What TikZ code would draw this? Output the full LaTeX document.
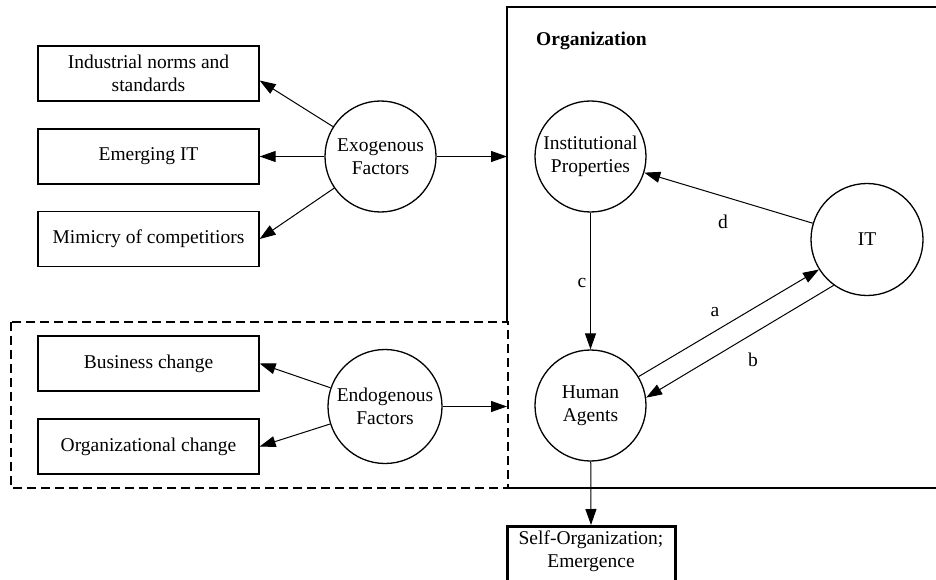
\documentclass[tikz,border=0pt]{standalone}
\usepackage{fontspec}
\setmainfont{Liberation Serif}
\usetikzlibrary{arrows.meta}
\begin{document}
\begin{tikzpicture}[x=1pt,y=-1pt,
  every node/.style={font=\fontsize{19.5}{22.5}\selectfont, inner sep=0pt},
  factorbox/.style={draw, line width=1.3pt, minimum width=221pt, minimum height=55pt, align=center},
  factor/.style={draw, circle, line width=1.3pt, align=center},
  conn/.style={line width=1pt, -{Triangle[length=16pt,width=11pt]}},
  lbl/.style={}]
\useasboundingbox (0,0) rectangle (936,580);

% organization frame
\draw[line width=2.4pt] (507,322) -- (507,7) -- (945,7);
\draw[line width=2.4pt] (507,488) -- (945,488);
\node[font=\bfseries\fontsize{19.5}{22.5}\selectfont, anchor=west] (orgt) at (536,41) {Organization};

% dashed frame of endogenous factors
\draw[line width=1.9pt, dash pattern=on 9pt off 5pt] (11,322) rectangle (508,488);

% left boxes
\node[factorbox] (b1) at (148.5,73.5) {Industrial norms and\\standards};
\node[factorbox] (b2) at (148.5,156.5) {Emerging IT};
\node[factorbox] (b3) at (148.5,239) {Mimicry of competitiors};
\node[factorbox] (b4) at (148.5,363.5) {Business change};
\node[factorbox] (b5) at (148.5,446.5) {Organizational change};

% circles
\node[factor, minimum size=111pt] (exo) at (380.5,156.5) {Exogenous\\Factors};
\node[factor, minimum size=114pt] (endo) at (385,406.5) {Endogenous\\Factors};
\node[factor, minimum size=111pt] (ip) at (590.5,156.5) {Institutional\\Properties};
\node[factor, minimum size=112pt] (it) at (867,239.5) {IT};
\node[factor, minimum size=111pt] (ha) at (590.5,405.5) {Human\\Agents};

% self-organization box
\node[draw, line width=3pt, minimum width=168pt, minimum height=64pt, anchor=north, align=center, text depth=0pt]
  (so) at (591,525) {\raisebox{18pt}{}Self-Organization;\\Emergence\\[9pt]\strut};

\coordinate (orgA) at (507,156.5);
\coordinate (orgB) at (507,406.5);

% connectors
\draw[conn] (exo) -- ([yshift=-7pt]b1.east);
\draw[conn] (exo) -- (b2.east);
\draw[conn] (exo) -- (b3.east);
\draw[conn] (exo) -- (orgA);
\draw[conn] (endo) -- (b4.east);
\draw[conn] (endo) -- (b5.east);
\draw[conn] (endo) -- (orgB);
\draw[conn] (it) -- (ip);
\draw[conn] (ip) -- (ha);
\draw[conn] (ha.31) -- (it.212);
\draw[conn] (it.234) -- (ha.8);
\draw[conn] (ha) -- (so.north);

% labels
\node (ld) at (723,222) {d};
\node (lc) at (582,283) {c};
\node (la) at (715,312) {a};
\node (lb) at (753,360) {b};
\end{tikzpicture}
\end{document}
